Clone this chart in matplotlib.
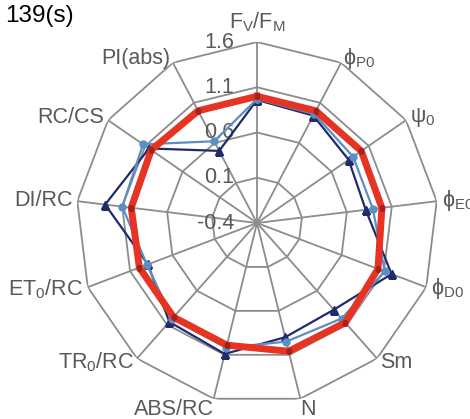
import numpy as np
import matplotlib
matplotlib.use("Agg")
import matplotlib.pyplot as plt
from matplotlib.transforms import offset_copy

plt.rcParams['font.family'] = ['Liberation Sans', 'DejaVu Sans']
plt.rcParams['mathtext.fontset'] = 'custom'
plt.rcParams['mathtext.rm'] = 'Liberation Sans'
plt.rcParams['mathtext.it'] = 'Liberation Sans:italic'
plt.rcParams['mathtext.bf'] = 'Liberation Sans:bold'

# JIP-test parameters (relative to control)
categories = [r'F$_\mathregular{V}$/F$_\mathregular{M}$',
              r'ϕ$_\mathregular{P0}$',
              r'ψ$_\mathregular{0}$',
              r'ϕ$_\mathregular{E0}$',
              r'ϕ$_\mathregular{D0}$',
              'Sm', 'N', 'ABS/RC',
              r'TR$_\mathregular{0}$/RC',
              r'ET$_\mathregular{0}$/RC',
              'DI/RC', 'RC/CS', 'PI(abs)']

red_vals = [1.00, 1.00, 1.00, 0.99, 1.03, 1.07, 1.06, 0.99, 0.99, 0.99, 1.00, 1.02, 1.00]
blue_vals = [0.97, 0.96, 0.89, 0.89, 1.11, 1.01, 0.95, 1.02, 1.01, 0.90, 1.10, 1.13, 0.62]
navy_vals = [0.96, 0.94, 0.83, 0.81, 1.19, 0.88, 0.90, 1.09, 1.06, 0.89, 1.29, 1.05, 0.50]

r_ticks = [-0.4, 0.1, 0.6, 1.1, 1.6]
r_tick_labels = ['-0.4', '0.1', '0.6', '1.1', '1.6']
title = '139(s)'

W, H = 470, 419
fig = plt.figure(figsize=(W / 100, H / 100), dpi=100)
cx, cy, R = 257, 223, 181
ax = fig.add_axes([(cx - R) / W, (H - cy - R) / H, 2 * R / W, 2 * R / H],
                  projection='polar')
ax.set_theta_zero_location('N')
ax.set_theta_direction(-1)
ax.set_ylim(r_ticks[0], r_ticks[-1])
ax.grid(False)
ax.set_xticks([])
ax.set_yticks([])
ax.spines['polar'].set_visible(False)
ax.patch.set_alpha(0)

n = len(categories)
theta = np.arange(n) * 2 * np.pi / n
theta_c = np.append(theta, theta[0])

grid_col = '#8c8c8c'
text_col = '#595959'

# polygon rings and spokes
for t in r_ticks[1:]:
    ax.plot(theta_c, [t] * (n + 1), color=grid_col, lw=1.3, zorder=1)
for th in theta:
    ax.plot([th, th], [r_ticks[0], r_ticks[-1]], color=grid_col, lw=1.3, zorder=1)

# radial value labels
tick_tr = offset_copy(ax.transData, fig=fig, x=-23, y=0, units='dots')
for t, lab in zip(r_ticks, r_tick_labels):
    ax.text(0, t, lab, transform=tick_tr, ha='right', va='center',
            fontsize=15.5, color=text_col, zorder=2)

def closed(v):
    return list(v) + [v[0]]

ax.plot(theta_c, closed(navy_vals), color='#1f2b6b', lw=1.6, marker='^',
        markersize=5.5, zorder=3)
ax.plot(theta_c, closed(blue_vals), color='#5b8fc3', lw=1.6, marker='o',
        markersize=5, zorder=4)
ax.plot(theta_c, closed(red_vals), color='#e63323', lw=5, marker='s',
        markersize=3.2, markerfacecolor='#a8201a', markeredgecolor='#a8201a',
        zorder=5)

# category labels just outside the outer ring
for th, lab in zip(theta, categories):
    s, c = np.sin(th), np.cos(th)
    if s > 0.2:
        ha = 'left'
    elif s < -0.2:
        ha = 'right'
    else:
        ha = 'center'
    if c > 0.9:
        va, off = 'bottom', 8
    elif c < -0.9:
        va, off = 'top', 0
    else:
        va, off = 'center', 5
    tr = offset_copy(ax.transData, fig=fig, x=off * s, y=off * c, units='dots')
    ax.text(th, r_ticks[-1], lab, transform=tr, ha=ha, va=va,
            fontsize=15.5, color=text_col, zorder=2, clip_on=False)

fig.text(5 / W, 1 - 5 / H, title, ha='left', va='top', fontsize=17.5, color='black')

fig.savefig('out.png', dpi=100)
